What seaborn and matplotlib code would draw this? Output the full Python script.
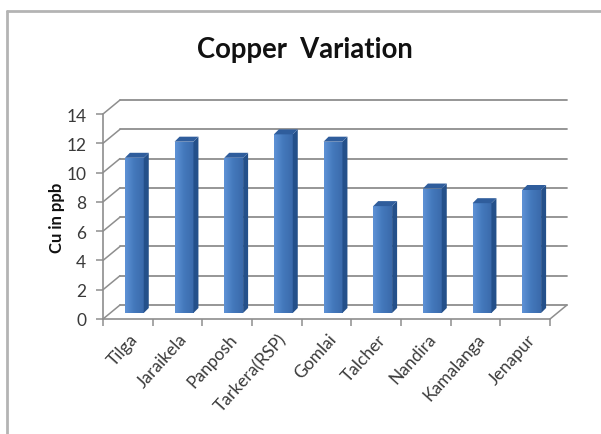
import numpy as np
import matplotlib
matplotlib.use("Agg")
import matplotlib.pyplot as plt
import seaborn as sns
from matplotlib.patches import Polygon
from matplotlib.lines import Line2D
from matplotlib.transforms import ScaledTranslation
from matplotlib.colors import LinearSegmentedColormap

# Copper concentration at each sampling site (ppb)
sites = ["Tilga", "Jaraikela", "Panposh", "Tarkera(RSP)", "Gomlai",
         "Talcher", "Nandira", "Kamalanga", "Jenapur"]
cu_ppb = [10.6, 11.7, 10.6, 12.2, 11.7, 7.3, 8.5, 7.5, 8.4]
y_ticks = [0, 2, 4, 6, 8, 10, 12, 14]

sns.set_theme(style="white")
plt.rcParams["font.family"] = ["Lato", "DejaVu Sans"]

W, H, DPI = 601, 435, 100
fig = plt.figure(figsize=(W / DPI, H / DPI), dpi=DPI)
fig.patch.set_facecolor("white")

# front plane of the 3-D box, in pixels
x_left, x_right, y_base, y_top = 103, 550, 320, 115
ax = fig.add_axes([x_left / W, (H - y_base) / H,
                   (x_right - x_left) / W, (y_base - y_top) / H])
ax.set_xlim(-0.5, len(sites) - 0.5)
ax.set_ylim(0, 14)
ax.set_facecolor("none")
for s in ax.spines.values():
    s.set_visible(False)

px_x = (x_right - x_left) / len(sites)   # pixels per category
px_y = (y_base - y_top) / 14.0           # pixels per ppb

# depth of the box (back wall offset) in data units
back_dx, back_dy = 17 / px_x, 14 / px_y
grid_col = "#8e8e8e"
n = len(sites)

# back-wall gridlines and left-wall diagonals
for t in y_ticks:
    ax.plot([-0.5 + back_dx, n - 0.5 + back_dx], [t + back_dy, t + back_dy],
            color=grid_col, lw=1.3, zorder=0, clip_on=False)
    ax.plot([-0.5, -0.5 + back_dx], [t, t + back_dy],
            color=grid_col, lw=1.1, zorder=0, clip_on=False)
# floor edges and front axis
ax.plot([-0.5, n - 0.5], [0, 0], color=grid_col, lw=1.2, clip_on=False, zorder=1)
ax.plot([n - 0.5, n - 0.5 + back_dx], [0, back_dy], color=grid_col, lw=1.1,
        clip_on=False, zorder=1)
ax.plot([-0.5, -0.5], [0, 14], color=grid_col, lw=1.2, clip_on=False, zorder=1)

# bars: front faces via seaborn, then pushed into the box depth
bar_w = 0.38
sns.barplot(x=sites, y=cu_ppb, width=bar_w, color="#4a7ebb", saturation=1,
            ax=ax, zorder=3, edgecolor="none")
ax.set_xlim(-0.5, n - 0.5)
ax.set_ylim(0, 14)

shift = ScaledTranslation(6.5 / DPI, 6 / DPI, fig.dpi_scale_trans)
face_tr = ax.transData + shift
depth_dx, depth_dy = 5 / px_x, 5 / px_y

grad_cmap = LinearSegmentedColormap.from_list("face", ["#5e92d6", "#4378bb", "#3a6aab"])
grad = np.linspace(0, 1, 64).reshape(1, -1)

for p in list(ax.patches):
    p.set_transform(face_tr)
    x0 = p.get_x()
    x1 = x0 + p.get_width()
    h = p.get_height()
    im = ax.imshow(grad, cmap=grad_cmap, aspect="auto", extent=[x0, x1, 0, h],
                   zorder=3.1, interpolation="bilinear")
    im.set_transform(face_tr)
    im.set_clip_path(p)
    side = Polygon([(x1, 0), (x1 + depth_dx, depth_dy),
                    (x1 + depth_dx, h + depth_dy), (x1, h)],
                   closed=True, facecolor="#24508a", edgecolor="none",
                   transform=face_tr, zorder=3.2, clip_on=False)
    top = Polygon([(x0, h), (x1, h), (x1 + depth_dx, h + depth_dy),
                   (x0 + depth_dx, h + depth_dy)],
                  closed=True, facecolor="#2f5d9c", edgecolor="none",
                  transform=face_tr, zorder=3.2, clip_on=False)
    ax.add_patch(side)
    ax.add_patch(top)

ax.set_xlim(-0.5, n - 0.5)
ax.set_ylim(0, 14)
ax.set_xlabel("")
ax.set_ylabel("")

# y axis ticks
ax.set_yticks(y_ticks)
ax.set_yticklabels([str(t) for t in y_ticks])
ax.tick_params(axis="y", which="both", left=True, length=5, width=1.1,
               color=grid_col, direction="out", pad=7, labelsize=12.5,
               labelcolor="#3a3a3a")

# category boundary ticks along the floor
ax.set_xticks(np.arange(-0.5, n, 1.0))
ax.set_xticklabels([])
ax.tick_params(axis="x", which="both", bottom=True, length=5, width=1.1,
               color=grid_col, direction="out")

label_tr = ax.transData + ScaledTranslation(7 / DPI, -17 / DPI, fig.dpi_scale_trans)
for i, name in enumerate(sites):
    ax.text(i, 0, name, rotation=48, rotation_mode="anchor", ha="right",
            va="center", fontsize=12.5, color="#3a3a3a", transform=label_tr)

ax.grid(False)

# chart frame
fig.add_artist(Line2D([7 / W, 7 / W], [0, 1 - 12 / H], color="#b4b4b4", lw=2))
fig.add_artist(Line2D([7 / W, 1], [1 - 12 / H, 1 - 12 / H], color="#b4b4b4", lw=2))

fig.text(305 / W, 1 - 50 / H, "Copper  Variation", ha="center", va="center",
         fontsize=19.8, fontweight="bold", color="#111111")
fig.text(57 / W, 1 - 218 / H, "Cu in ppb", ha="center", va="center",
         rotation=90, fontsize=12, fontweight="bold", color="#111111")

fig.savefig("out.png", dpi=DPI, facecolor="white")
